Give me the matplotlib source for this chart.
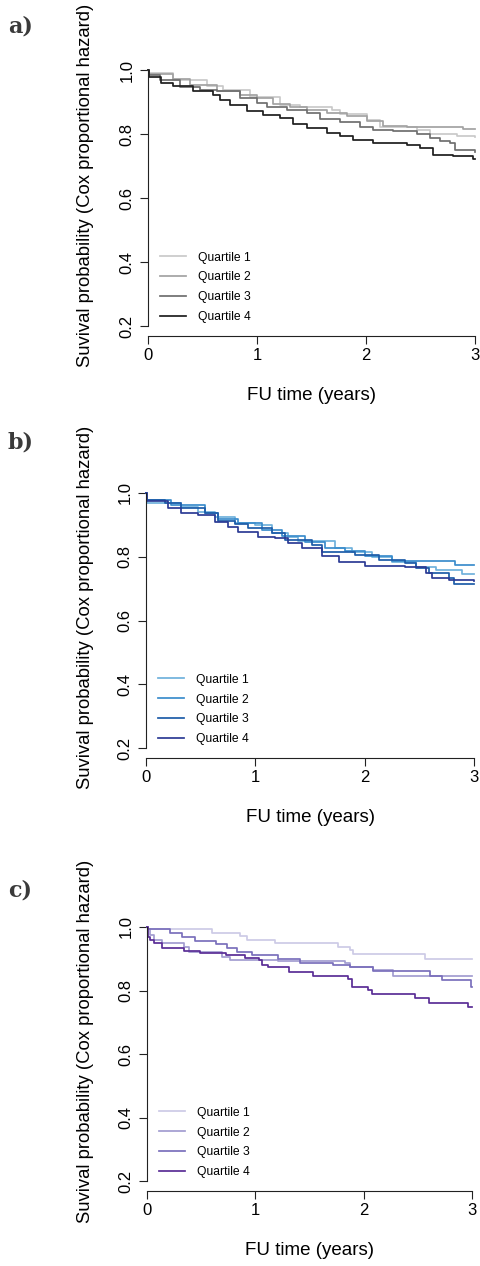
"""Cox proportional hazard survival curves by quartile, three panels."""

import matplotlib
matplotlib.use("Agg")
import matplotlib.pyplot as plt

plt.rcParams["font.family"] = ["Liberation Sans", "DejaVu Sans"]

W, H = 480, 1266
QUARTILES = ["Quartile 1", "Quartile 2", "Quartile 3", "Quartile 4"]

# ---- panel a (greys) -------------------------------------------------------
a_q1_t = [0, 0.006, 0.232, 0.538, 0.691, 0.936, 1.211, 1.394, 1.685, 1.761, 2.006, 2.128, 2.465, 2.587, 2.832, 3.0]
a_q1_s = [1.0, 0.990, 0.969, 0.950, 0.938, 0.917, 0.891, 0.884, 0.875, 0.863, 0.844, 0.823, 0.813, 0.801, 0.794, 0.790]
a_q2_t = [0, 0.006, 0.232, 0.385, 0.630, 0.844, 0.997, 1.150, 1.303, 1.456, 1.639, 1.823, 2.006, 2.159, 2.373, 2.771, 2.893, 3.0]
a_q2_s = [1.0, 0.988, 0.971, 0.953, 0.933, 0.922, 0.912, 0.894, 0.884, 0.875, 0.867, 0.857, 0.842, 0.826, 0.823, 0.821, 0.815, 0.815]
a_q3_t = [0, 0.006, 0.110, 0.294, 0.477, 0.630, 0.844, 0.997, 1.089, 1.272, 1.456, 1.578, 1.761, 1.945, 2.067, 2.251, 2.465,
          2.587, 2.679, 2.771, 2.817, 3.0]
a_q3_s = [1.0, 0.984, 0.969, 0.948, 0.938, 0.933, 0.912, 0.896, 0.884, 0.875, 0.865, 0.846, 0.836, 0.823, 0.813, 0.808, 0.801,
          0.787, 0.777, 0.772, 0.749, 0.745]
a_q4_t = [0, 0.006, 0.118, 0.232, 0.416, 0.599, 0.660, 0.752, 0.905, 1.058, 1.211, 1.333, 1.456, 1.639, 1.761, 1.884, 2.067,
          2.373, 2.495, 2.618, 2.801, 2.985, 3.0]
a_q4_s = [1.0, 0.979, 0.958, 0.950, 0.935, 0.922, 0.907, 0.891, 0.872, 0.860, 0.849, 0.831, 0.818, 0.804, 0.794, 0.782, 0.771,
          0.766, 0.756, 0.735, 0.730, 0.722, 0.722]

# ---- panel b (blues) -------------------------------------------------------
b_q1_t = [0, 0.006, 0.324, 0.477, 0.630, 0.813, 0.997, 1.150, 1.303, 1.394, 1.731, 1.884, 2.067, 2.251, 2.465, 2.648, 2.893, 3.0]
b_q1_s = [1.0, 0.968, 0.957, 0.941, 0.926, 0.907, 0.900, 0.873, 0.861, 0.850, 0.826, 0.816, 0.798, 0.785, 0.767, 0.758, 0.746, 0.746]
b_q2_t = [0, 0.006, 0.232, 0.538, 0.661, 0.844, 1.058, 1.242, 1.456, 1.639, 1.823, 2.006, 2.251, 2.830, 3.0]
b_q2_s = [1.0, 0.978, 0.962, 0.936, 0.917, 0.905, 0.884, 0.865, 0.847, 0.826, 0.819, 0.802, 0.788, 0.774, 0.774]
b_q3_t = [0, 0.006, 0.171, 0.324, 0.538, 0.661, 0.813, 0.936, 1.150, 1.272, 1.517, 1.609, 1.914, 2.128, 2.373, 2.465, 2.587,
          2.771, 2.817, 3.0]
b_q3_s = [1.0, 0.978, 0.968, 0.952, 0.936, 0.913, 0.903, 0.889, 0.876, 0.853, 0.837, 0.816, 0.805, 0.790, 0.779, 0.764, 0.748,
          0.732, 0.714, 0.714]
b_q4_t = [0, 0.006, 0.202, 0.324, 0.477, 0.630, 0.752, 0.844, 1.028, 1.180, 1.303, 1.425, 1.609, 1.761, 2.006, 2.373, 2.557,
          2.618, 2.771, 3.0]
b_q4_s = [1.0, 0.976, 0.952, 0.936, 0.931, 0.910, 0.894, 0.879, 0.863, 0.858, 0.842, 0.826, 0.802, 0.785, 0.771, 0.767, 0.750,
          0.732, 0.727, 0.725]

# ---- panel c (purples) -----------------------------------------------------
c_q1_t = [0, 0.006, 0.599, 0.860, 0.921, 1.183, 1.766, 1.874, 1.904, 2.565, 3.0]
c_q1_s = [1.0, 0.993, 0.982, 0.972, 0.959, 0.949, 0.936, 0.928, 0.915, 0.900, 0.900]
c_q2_t = [0, 0.006, 0.030, 0.061, 0.138, 0.338, 0.384, 0.691, 0.768, 1.213, 1.828, 1.874, 2.089, 2.273, 3.0]
c_q2_s = [1.0, 0.993, 0.975, 0.959, 0.949, 0.938, 0.922, 0.907, 0.896, 0.894, 0.886, 0.873, 0.865, 0.846, 0.846]
c_q3_t = [0, 0.006, 0.215, 0.322, 0.445, 0.638, 0.737, 0.829, 0.967, 1.213, 1.413, 1.720, 1.874, 2.089, 2.611, 2.719, 2.990, 3.0]
c_q3_s = [1.0, 0.993, 0.980, 0.970, 0.957, 0.946, 0.933, 0.922, 0.912, 0.898, 0.888, 0.880, 0.873, 0.862, 0.846, 0.833, 0.812, 0.812]
c_q4_t = [0, 0.006, 0.030, 0.061, 0.138, 0.338, 0.485, 0.731, 0.906, 1.038, 1.060, 1.121, 1.312, 1.536, 1.858, 1.889, 2.037,
          2.073, 2.473, 2.605, 2.964, 3.0]
c_q4_s = [1.0, 0.970, 0.959, 0.949, 0.933, 0.925, 0.917, 0.912, 0.901, 0.896, 0.880, 0.873, 0.859, 0.846, 0.835, 0.812, 0.802,
          0.789, 0.777, 0.762, 0.747, 0.747]

X_TICKS = [0, 1, 2, 3]
Y_TICKS = [0.2, 0.4, 0.6, 0.8, 1.0]

PANELS = [
    dict(tag="a)", curves=[(a_q1_t, a_q1_s), (a_q2_t, a_q2_s), (a_q3_t, a_q3_s), (a_q4_t, a_q4_s)],
         colors=["#c9c9c9", "#a2a2a2", "#6e6e6e", "#1e1e1e"],
         box=(148, 475, 70, 326), tag_y=27),
    dict(tag="b)", curves=[(b_q1_t, b_q1_s), (b_q2_t, b_q2_s), (b_q3_t, b_q3_s), (b_q4_t, b_q4_s)],
         colors=["#6fb1dc", "#3a8ccc", "#1d5ca8", "#2b3a94"],
         box=(146, 474, 493, 748), tag_y=442),
    dict(tag="c)", curves=[(c_q1_t, c_q1_s), (c_q2_t, c_q2_s), (c_q3_t, c_q3_s), (c_q4_t, c_q4_s)],
         colors=["#cdcbe6", "#a29dd0", "#7a6fbb", "#5a2d96"],
         box=(147, 472, 927, 1181), tag_y=891),
]

fig = plt.figure(figsize=(W / 100, H / 100), dpi=100)

for p in PANELS:
    left, right, top, bottom = p["box"]
    ax = fig.add_axes([left / W, 1 - bottom / H, (right - left) / W, (bottom - top) / H])

    for (t, s), col, lab in zip(p["curves"], p["colors"], QUARTILES):
        ax.plot(t, s, drawstyle="steps-post", color=col, lw=1.25, label=lab, clip_on=False)

    ax.set_xlim(0, 3)
    ax.set_ylim(0.2, 1.0)
    ax.set_xticks(X_TICKS)
    ax.set_yticks(Y_TICKS)
    ax.set_xticklabels([str(v) for v in X_TICKS])
    ax.set_yticklabels([f"{v:.1f}" for v in Y_TICKS], rotation=90, va="center")

    # R-style open axes: no box, x axis pushed below the plot
    for side in ("top", "right"):
        ax.spines[side].set_visible(False)
    ax.spines["bottom"].set_position(("outward", 7.5))
    for side in ("left", "bottom"):
        ax.spines[side].set_linewidth(0.8)
        ax.spines[side].set_color("#222222")
    ax.tick_params(length=5.5, width=0.8, color="#222222", labelsize=12, direction="out")
    ax.tick_params(axis="x", pad=3)
    ax.tick_params(axis="y", pad=4)

    ax.set_xlabel("FU time (years)", fontsize=13.5)
    ax.xaxis.set_label_coords(0.5, -(396 - 326) / 256)
    ax.xaxis.label.set_va("center")
    ax.set_ylabel("Suvival probability (Cox proportional hazard)", fontsize=13.3)
    ax.yaxis.set_label_coords((86 - left) / (right - left), 0.55)
    ax.yaxis.label.set_va("center")

    ax.legend(loc="lower left", bbox_to_anchor=(0.036, 0.01), frameon=False,
              fontsize=8.7, handlelength=2.15, handletextpad=1.0,
              labelspacing=0.66, borderpad=0, borderaxespad=0)

    fig.text(8 / W, 1 - p["tag_y"] / H, p["tag"], fontsize=16, fontweight="bold",
             family="DejaVu Serif", color="#3a3a3a", va="center", ha="left")

fig.savefig("out.png", dpi=100)
